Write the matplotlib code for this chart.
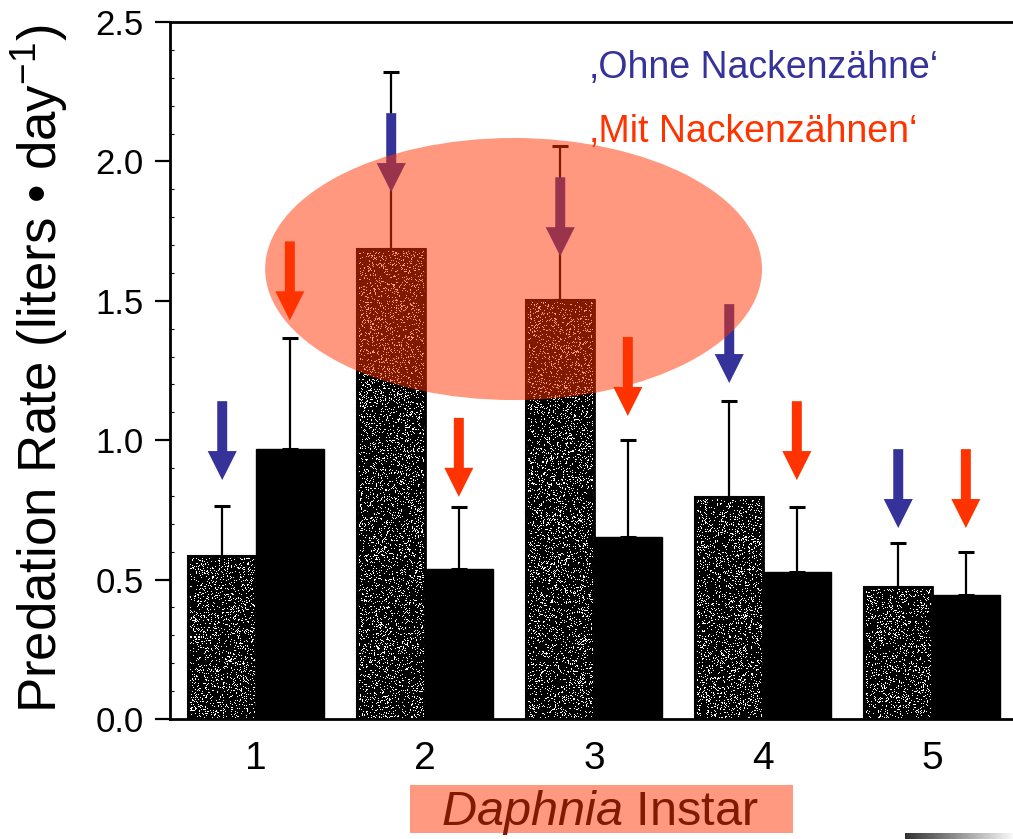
import numpy as np
import matplotlib
matplotlib.use("Agg")
import matplotlib.pyplot as plt
from matplotlib.patches import Ellipse, Rectangle
from matplotlib.ticker import MultipleLocator

plt.rcParams['font.family'] = ['Liberation Sans', 'DejaVu Sans']
plt.rcParams['mathtext.fontset'] = 'custom'
plt.rcParams['mathtext.rm'] = 'Liberation Sans'
plt.rcParams['mathtext.it'] = 'Liberation Sans:italic'

# data
instars = [1, 2, 3, 4, 5]
ohne_mean = [0.585, 1.686, 1.503, 0.795, 0.472]
ohne_upper = [0.764, 2.32, 2.056, 1.142, 0.633]
mit_mean = [0.968, 0.537, 0.654, 0.526, 0.444]
mit_upper = [1.366, 0.759, 0.999, 0.759, 0.599]

# heights where the annotation arrows point to
ohne_arrow_tip = [0.857, 1.89, 1.66, 1.205, 0.685]
mit_arrow_tip = [1.43, 0.797, 1.087, 0.857, 0.685]

BLUE = '#35339A'
RED = '#FF3300'
W = 0.4

fig = plt.figure(figsize=(10.13, 8.39), dpi=100)
ax = fig.add_axes([170 / 1013, 1 - 719 / 839, 1 - 170 / 1013, 697 / 839])

x = np.array(instars, dtype=float)
xo = x - W / 2
xm = x + W / 2

# stippled bars: black with fine white speckle texture
rng = np.random.default_rng(7)
ohne_bars = ax.bar(xo, ohne_mean, W, color='black', edgecolor='black',
                   linewidth=1.5, zorder=2)
for bar in ohne_bars:
    h = bar.get_height()
    ny = max(int(h * 280), 4)
    tex = (rng.random((ny, 68)) < 0.14).astype(float)
    im = ax.imshow(tex, cmap='gray', vmin=0, vmax=1, aspect='auto',
                   interpolation='nearest', zorder=2.1,
                   extent=(bar.get_x(), bar.get_x() + W, 0, h))
    im.set_clip_path(bar)
ax.bar(xo, ohne_mean, W, facecolor='none', edgecolor='black',
       linewidth=2, zorder=2.2)

ax.bar(xm, mit_mean, W, color='black', edgecolor='black', linewidth=1, zorder=2)

for xs, m, up in [(xo, ohne_mean, ohne_upper), (xm, mit_mean, mit_upper)]:
    m = np.array(m)
    err = np.array(up) - m
    ax.errorbar(xs, m, yerr=[np.zeros_like(err), err], fmt='none',
                ecolor='black', elinewidth=1.6, capsize=6, capthick=2.2, zorder=3)

# arrows
alen = 0.283
for xs, tips, col in [(xo, ohne_arrow_tip, BLUE), (xm, mit_arrow_tip, RED)]:
    for xi, t in zip(xs, tips):
        ax.arrow(xi, t + alen, 0, -alen, width=0.059, head_width=0.172,
                 head_length=0.104, length_includes_head=True,
                 facecolor=col, edgecolor='none', linewidth=0, zorder=4)

# highlight ellipse
ax.add_patch(Ellipse((2.524, 1.614), 2.94, 0.94, facecolor=RED, alpha=0.5,
                     edgecolor='none', zorder=5))

ax.set_xlim(0.491, 5.479)
ax.set_ylim(0, 2.5)
ax.set_xticks(instars)
ax.set_xticklabels([str(i) for i in instars], fontsize=28)
ax.set_yticks(np.arange(0, 2.51, 0.5))
ax.set_yticklabels(['%.1f' % v for v in np.arange(0, 2.51, 0.5)], fontsize=25)
ax.yaxis.set_minor_locator(MultipleLocator(0.1))
ax.tick_params(axis='x', length=0, pad=16)
ax.tick_params(axis='y', which='major', length=11, width=1.6, pad=8, direction='out')
ax.tick_params(axis='y', which='minor', length=3, width=0.8, direction='in')
ax.spines['right'].set_visible(False)
for s in ['left', 'bottom', 'top']:
    ax.spines[s].set_linewidth(2)

fig.text(40 / 1013, 1 - 369 / 839,
         r'Predation Rate (liters • day$^{\mathregular{-1}}$)',
         rotation=90, ha='center', va='center', fontsize=38)

fig.text(590 / 1013, 1 - 78 / 839, '\u201aOhne Nackenzähne\u2018',
         color=BLUE, fontsize=27, va='baseline', ha='left')
fig.text(590 / 1013, 1 - 142 / 839, '\u201aMit Nackenzähnen\u2018',
         color=RED, fontsize=27, va='baseline', ha='left')

# x label with salmon box
fig.patches.append(Rectangle((410 / 1013, 1 - 833 / 839), 383 / 1013, 48 / 839,
                             transform=fig.transFigure, facecolor='#FF997F',
                             edgecolor='none', zorder=0))
fig.text(600 / 1013, 1 - 825 / 839, r'$\mathit{Daphnia}$ Instar',
         color='#801A00', fontsize=35, ha='center', va='baseline')

# scan strip in lower right corner
gax = fig.add_axes([905 / 1013, 0, 108 / 1013, 6 / 839])
gax.imshow(np.linspace(0.2, 0.97, 100)[None, :], cmap='gray', vmin=0, vmax=1,
           aspect='auto')
gax.axis('off')

fig.savefig('out.png', dpi=100)
